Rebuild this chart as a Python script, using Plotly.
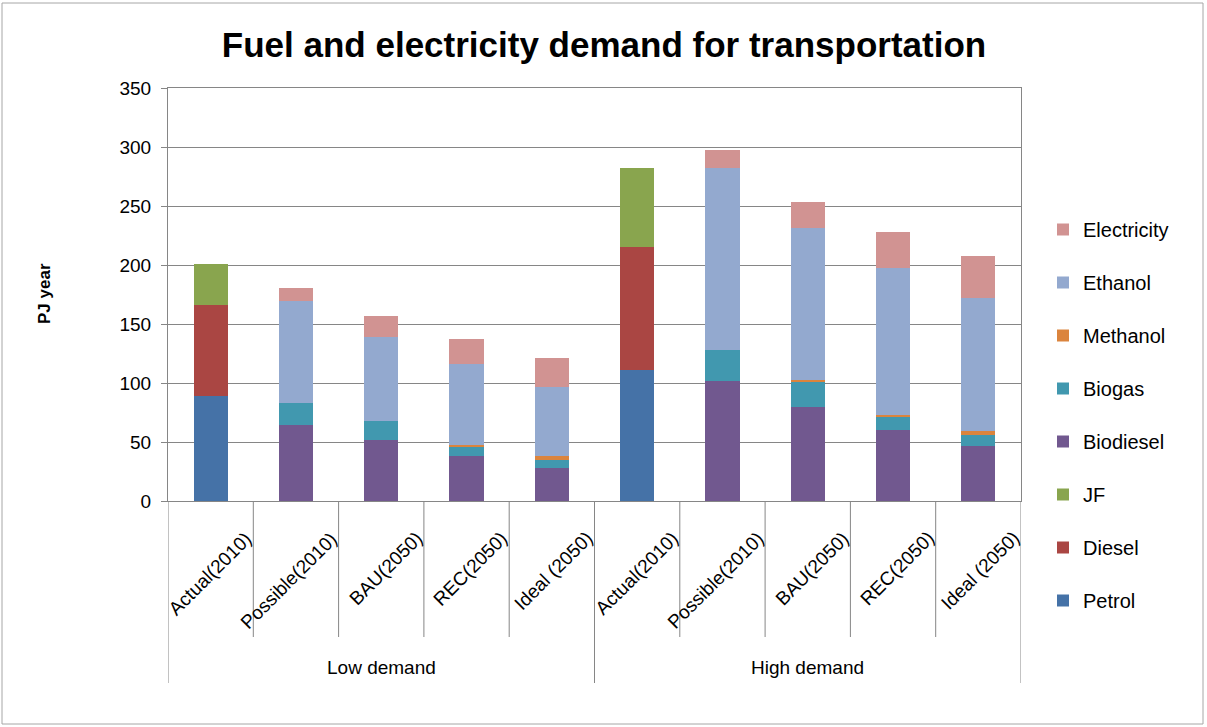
import plotly.graph_objects as go

groups = ["Low demand"] * 5 + ["High demand"] * 5
scenarios = ["Actual(2010)", "Possible(2010)", "BAU(2050)", "REC(2050)", "Ideal (2050)"] * 2
keys = [f"{g} | {s}" for g, s in zip(groups, scenarios)]

petrol      = [89, 0, 0, 0, 0, 111, 0, 0, 0, 0]
diesel      = [76.8, 0, 0, 0, 0, 103.9, 0, 0, 0, 0]
jf          = [34.7, 0, 0, 0, 0, 66.9, 0, 0, 0, 0]
biodiesel   = [0, 64.1, 51.4, 37.8, 27.7, 0, 101.3, 79.3, 60.1, 46.6]
biogas      = [0, 18.6, 16.1, 8.5, 7.0, 0, 26.5, 22.0, 11.9, 9.0]
methanol    = [0, 0, 0, 0.8, 3.4, 0, 0, 1.1, 0.8, 3.4]
ethanol     = [0, 86.4, 71.1, 68.9, 58.1, 0, 154.1, 128.7, 125.0, 112.9]
electricity = [0, 11.8, 17.8, 20.9, 24.9, 0, 15.8, 22.6, 30.5, 35.6]

series = [
    ("Petrol", petrol, "#4572A7"),
    ("Diesel", diesel, "#AA4643"),
    ("JF", jf, "#89A54E"),
    ("Biodiesel", biodiesel, "#71588F"),
    ("Biogas", biogas, "#4198AF"),
    ("Methanol", methanol, "#DB843D"),
    ("Ethanol", ethanol, "#93A9CF"),
    ("Electricity", electricity, "#D19392"),
]

FONT = "Liberation Sans, Arial, sans-serif"

fig = go.Figure()
nser = len(series)
for idx, (name, vals, col) in enumerate(series):
    fig.add_trace(go.Bar(x=keys, y=vals, name=name,
                         marker=dict(color=col, line=dict(width=0)),
                         legendgroup=name, legendrank=nser - idx))

L, R, T, B = 168, 186, 88, 226
W, H = 1207, 727
pw, ph = W - L - R, H - T - B

def px2x(px):
    return (px - L) / pw

def py2y(py):
    return (H - B - py) / ph

shapes = []
# outer border
shapes.append(dict(type="rect", xref="paper", yref="paper",
                   x0=px2x(2), x1=px2x(1203), y0=py2y(724), y1=py2y(3),
                   line=dict(color="#a6a6a6", width=1), layer="below"))
# category dividers
n = len(keys)
for i in range(n + 1):
    xpos = i - 0.5
    long_ = (i % 5 == 0)
    shapes.append(dict(type="line", xref="x", yref="paper", x0=xpos, x1=xpos,
                       y0=0, y1=py2y(683 if long_ else 637),
                       line=dict(color="#868686", width=1)))

annotations = []
for k, s in zip(keys, scenarios):
    annotations.append(dict(x=k, xref="x", y=0, yref="paper",
                            xanchor="right", yanchor="top", xshift=48, yshift=-24,
                            text=s, showarrow=False, textangle=-45,
                            font=dict(family=FONT, size=19, color="#000")))
group_names = ["Low demand", "High demand"]
for gi, g in enumerate(group_names):
    annotations.append(dict(x=gi * 5 + 2, xref="x", y=py2y(667), yref="paper",
                            xanchor="center", yanchor="middle",
                            text=g, showarrow=False,
                            font=dict(family=FONT, size=19, color="#000")))
# y-axis title
annotations.append(dict(x=px2x(44), xref="paper", y=py2y(294), yref="paper",
                        xanchor="center", yanchor="middle", textangle=-90,
                        text="<b>PJ year</b>", showarrow=False,
                        font=dict(family=FONT, size=17, color="#000")))

fig.update_layout(
    width=W, height=H,
    margin=dict(l=L, r=R, t=T, b=B),
    paper_bgcolor="white", plot_bgcolor="white",
    barmode="stack", bargap=0.6,
    title=dict(text="<b>Fuel and electricity demand for transportation</b>",
               x=604 / W, xanchor="center", y=1 - 45 / H, yanchor="middle",
               font=dict(family=FONT, size=35, color="#000")),
    xaxis=dict(range=[-0.5, n - 0.5], showticklabels=False, ticks="",
               showgrid=False, showline=True, linecolor="#868686", mirror=True,
               zeroline=False),
    yaxis=dict(range=[0, 350], dtick=50, showgrid=True, gridcolor="#868686",
               gridwidth=1, showline=True, linecolor="#868686", mirror=True,
               ticks="outside", ticklen=6, tickcolor="#868686",
               ticklabelstandoff=6,
               tickfont=dict(family=FONT, size=19, color="#000"),
               zeroline=False),
    legend=dict(traceorder="grouped", tracegroupgap=24, maxheight=700,
                x=px2x(1043), xanchor="left", y=py2y(210), yanchor="top",
                font=dict(family=FONT, size=20, color="#000"),
                bgcolor="rgba(0,0,0,0)"),
    shapes=shapes,
    annotations=annotations,
)

fig.write_html("out.html")
